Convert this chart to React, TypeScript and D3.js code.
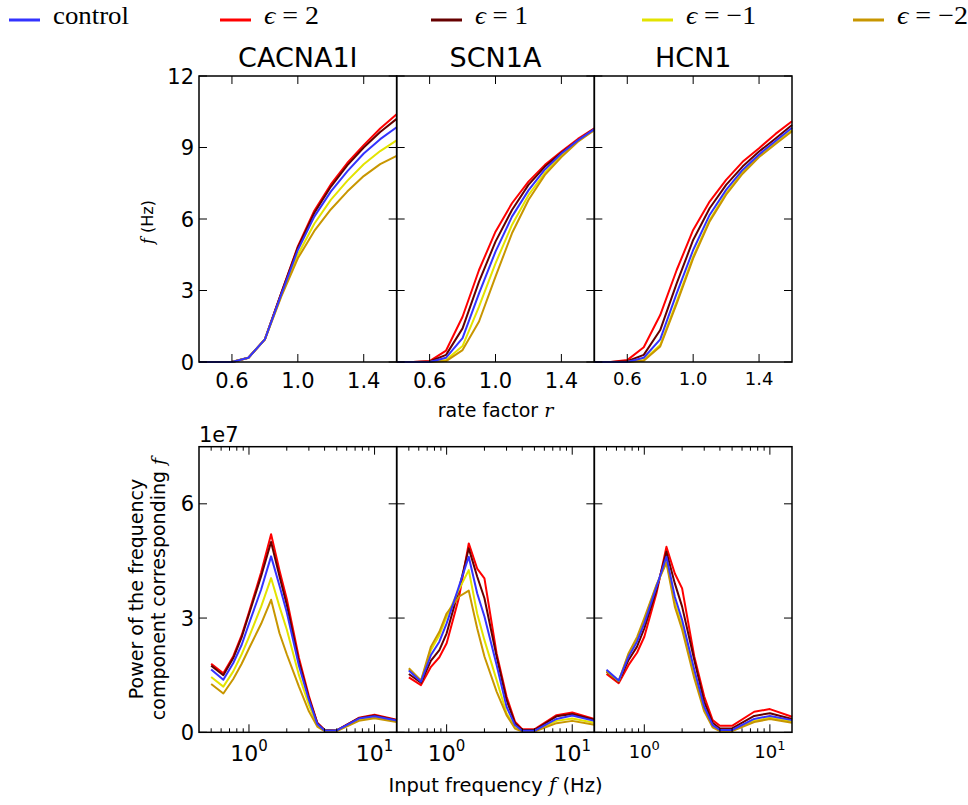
import { useEffect, useRef } from 'react';
import * as d3 from 'd3';

const genes = ['CACNA1I', 'SCN1A', 'HCN1'];
const seriesLabels = ['control', '2', '1', '\u22121', '\u22122'];
const seriesColors = ['#3333ff', '#ff0000', '#660000', '#e3e300', '#c89600'];
// control last so it sits on top
const drawOrder = [1, 2, 3, 4, 0];

// top row: output rate f (Hz) against rate factor r
const rateFactors = [0.4, 0.5, 0.6, 0.7, 0.8, 0.9, 1.0, 1.1, 1.2, 1.3, 1.4, 1.5, 1.6];
const rateTicks = [0.6, 1.0, 1.4];
const rateYTicks = [0, 3, 6, 9, 12];

const cacna1iRateControl = [0, 0, 0, 0.18, 0.95, 2.85, 4.7, 6.1, 7.15, 8.0, 8.75, 9.35, 9.85];
const cacna1iRateEps2 = [0, 0, 0, 0.18, 0.95, 2.9, 4.85, 6.35, 7.45, 8.35, 9.1, 9.8, 10.4];
const cacna1iRateEps1 = [0, 0, 0, 0.18, 0.95, 2.9, 4.8, 6.25, 7.35, 8.25, 9.0, 9.65, 10.2];
const cacna1iRateEpsM1 = [0, 0, 0, 0.18, 0.95, 2.8, 4.5, 5.8, 6.8, 7.6, 8.3, 8.85, 9.3];
const cacna1iRateEpsM2 = [0, 0, 0, 0.18, 0.95, 2.75, 4.35, 5.5, 6.4, 7.15, 7.8, 8.3, 8.65];

const scn1aRateControl = [0, 0, 0, 0.18, 1.0, 2.88, 4.63, 6.1, 7.2, 8.08, 8.75, 9.3, 9.77];
const scn1aRateEps2 = [0, 0, 0.04, 0.48, 1.9, 3.86, 5.47, 6.66, 7.57, 8.27, 8.83, 9.36, 9.8];
const scn1aRateEps1 = [0, 0, 0.02, 0.3, 1.41, 3.37, 5.05, 6.38, 7.43, 8.2, 8.78, 9.3, 9.78];
const scn1aRateEpsM1 = [0, 0, 0, 0.08, 0.67, 2.32, 4.14, 5.75, 7.0, 7.94, 8.68, 9.28, 9.75];
const scn1aRateEpsM2 = [0, 0, 0, 0.04, 0.5, 1.7, 3.58, 5.4, 6.8, 7.85, 8.6, 9.24, 9.73];

const hcn1RateControl = [0, 0, 0, 0.18, 0.95, 2.88, 4.7, 6.17, 7.22, 8.06, 8.71, 9.27, 9.83];
const hcn1RateEps2 = [0, 0, 0.08, 0.62, 1.97, 3.86, 5.54, 6.73, 7.64, 8.4, 8.97, 9.57, 10.1];
const hcn1RateEps1 = [0, 0, 0.03, 0.3, 1.34, 3.3, 5.12, 6.45, 7.43, 8.2, 8.83, 9.38, 9.94];
const hcn1RateEpsM1 = [0, 0, 0, 0.08, 0.71, 2.53, 4.42, 5.96, 7.08, 7.96, 8.64, 9.2, 9.73];
const hcn1RateEpsM2 = [0, 0, 0, 0.05, 0.65, 2.45, 4.35, 5.9, 7.02, 7.9, 8.6, 9.15, 9.68];

// bottom row: power (x 1e7) against input frequency f (Hz)
const inputFreqs = [0.5, 0.625, 0.75, 0.875, 1, 1.25, 1.5, 1.75, 2, 2.5, 3, 3.5, 4, 5, 7.5, 10, 15];
const powerYTicks = [0, 3, 6];

const cacna1iPowControl = [1.65, 1.38, 1.82, 2.3, 2.85, 3.75, 4.62, 3.85, 3.15, 1.75, 0.85, 0.22, 0.05, 0.05, 0.36, 0.42, 0.31];
const cacna1iPowEps2 = [1.8, 1.55, 2.0, 2.55, 3.15, 4.2, 5.2, 4.25, 3.5, 1.95, 0.95, 0.25, 0.06, 0.05, 0.38, 0.46, 0.33];
const cacna1iPowEps1 = [1.75, 1.5, 1.95, 2.5, 3.1, 4.1, 5.0, 4.1, 3.35, 1.85, 0.9, 0.24, 0.06, 0.05, 0.37, 0.44, 0.32];
const cacna1iPowEpsM1 = [1.45, 1.2, 1.6, 2.05, 2.5, 3.3, 4.05, 3.3, 2.7, 1.5, 0.72, 0.19, 0.04, 0.04, 0.33, 0.4, 0.29];
const cacna1iPowEpsM2 = [1.27, 1.02, 1.4, 1.8, 2.2, 2.85, 3.48, 2.6, 2.05, 1.2, 0.55, 0.15, 0.03, 0.03, 0.3, 0.37, 0.27];

const scn1aPowControl = [1.62, 1.33, 2.03, 2.38, 2.86, 3.82, 4.61, 3.65, 3.04, 1.77, 0.67, 0.19, 0.04, 0.04, 0.35, 0.44, 0.3];
const scn1aPowEps2 = [1.44, 1.24, 1.72, 1.97, 2.34, 3.52, 4.96, 4.3, 4.04, 2.07, 0.94, 0.28, 0.08, 0.08, 0.45, 0.52, 0.35];
const scn1aPowEps1 = [1.53, 1.3, 1.88, 2.16, 2.6, 3.74, 4.83, 4.09, 3.52, 1.99, 0.85, 0.24, 0.06, 0.06, 0.42, 0.48, 0.33];
const scn1aPowEpsM1 = [1.65, 1.35, 2.16, 2.55, 3.04, 3.74, 4.26, 3.12, 2.42, 1.37, 0.5, 0.13, 0.03, 0.03, 0.3, 0.36, 0.25];
const scn1aPowEpsM2 = [1.68, 1.36, 2.25, 2.64, 3.12, 3.56, 3.72, 2.73, 1.99, 1.07, 0.45, 0.1, 0.02, 0.02, 0.24, 0.3, 0.2];

const hcn1PowControl = [1.64, 1.36, 1.99, 2.38, 2.86, 3.82, 4.61, 3.56, 2.95, 1.64, 0.67, 0.19, 0.06, 0.06, 0.35, 0.43, 0.32];
const hcn1PowEps2 = [1.53, 1.29, 1.77, 2.09, 2.51, 3.65, 4.87, 4.17, 3.78, 1.99, 0.94, 0.32, 0.17, 0.17, 0.54, 0.61, 0.41];
const hcn1PowEps1 = [1.59, 1.33, 1.9, 2.25, 2.73, 3.74, 4.74, 3.91, 3.3, 1.9, 0.8, 0.25, 0.1, 0.1, 0.43, 0.5, 0.35];
const hcn1PowEpsM1 = [1.62, 1.35, 2.05, 2.45, 2.95, 3.85, 4.5, 3.4, 2.8, 1.5, 0.6, 0.16, 0.04, 0.04, 0.3, 0.38, 0.28];
const hcn1PowEpsM2 = [1.6, 1.34, 2.08, 2.5, 3.0, 3.87, 4.45, 3.3, 2.7, 1.42, 0.55, 0.13, 0.03, 0.03, 0.27, 0.35, 0.25];

const rateData = [
  [cacna1iRateControl, cacna1iRateEps2, cacna1iRateEps1, cacna1iRateEpsM1, cacna1iRateEpsM2],
  [scn1aRateControl, scn1aRateEps2, scn1aRateEps1, scn1aRateEpsM1, scn1aRateEpsM2],
  [hcn1RateControl, hcn1RateEps2, hcn1RateEps1, hcn1RateEpsM1, hcn1RateEpsM2],
];
const powerData = [
  [cacna1iPowControl, cacna1iPowEps2, cacna1iPowEps1, cacna1iPowEpsM1, cacna1iPowEpsM2],
  [scn1aPowControl, scn1aPowEps2, scn1aPowEps1, scn1aPowEpsM1, scn1aPowEpsM2],
  [hcn1PowControl, hcn1PowEps2, hcn1PowEps1, hcn1PowEpsM1, hcn1PowEpsM2],
];

const W = 968;
const H = 805;
const SANS = 'DejaVu Sans';
const SERIF = 'Liberation Serif';

function App() {
  const svgRef = useRef<SVGSVGElement>(null);

  useEffect(() => {
    if (!svgRef.current) return;
    const svg = d3.select(svgRef.current);
    svg.selectAll('*').remove();

    const figLeft = 199;
    const figRight = 792;
    const panelW = (figRight - figLeft) / 3;
    const topRow = { y0: 76, y1: 362 };
    const botRow = { y0: 446.7, y1: 732.3 };

    // Legend, five columns across the figure width
    const legendW = [76, 55, 53, 70, 71];
    seriesLabels.forEach((lab, i) => {
      const lx = 9 + i * 211;
      svg.append('line')
        .attr('x1', lx).attr('x2', lx + 31)
        .attr('y1', 20).attr('y2', 20)
        .attr('stroke', seriesColors[i])
        .attr('stroke-width', 3);
      const t = svg.append('text')
        .attr('x', lx + (i === 0 ? 44 : 44))
        .attr('y', 24)
        .attr('font-family', SERIF)
        .attr('font-size', 26)
        .attr('textLength', legendW[i])
        .attr('lengthAdjust', 'spacingAndGlyphs');
      if (i === 0) {
        t.text(lab);
      } else {
        t.append('tspan').attr('font-style', 'italic').text('\u03f5');
        t.append('tspan').text(' = ' + lab);
      }
    });

    const tickLen = 8;
    const minorLen = 4;

    const drawFrame = (g, x0, x1, y0, y1) => {
      g.append('rect')
        .attr('x', x0).attr('y', y0)
        .attr('width', x1 - x0).attr('height', y1 - y0)
        .attr('fill', 'none')
        .attr('stroke', '#000')
        .attr('stroke-width', 1.5);
    };

    const drawXTicks = (g, xs, scale, y0, y1, len) => {
      xs.forEach(v => {
        const px = scale(v);
        g.append('line').attr('x1', px).attr('x2', px).attr('y1', y1).attr('y2', y1 - len)
          .attr('stroke', '#000').attr('stroke-width', 1);
        g.append('line').attr('x1', px).attr('x2', px).attr('y1', y0).attr('y2', y0 + len)
          .attr('stroke', '#000').attr('stroke-width', 1);
      });
    };

    const drawYTicks = (g, ys, scale, x0, x1) => {
      ys.forEach(v => {
        const py = scale(v);
        g.append('line').attr('x1', x0).attr('x2', x0 + tickLen).attr('y1', py).attr('y2', py)
          .attr('stroke', '#000').attr('stroke-width', 1);
        g.append('line').attr('x1', x1).attr('x2', x1 - tickLen).attr('y1', py).attr('y2', py)
          .attr('stroke', '#000').attr('stroke-width', 1);
      });
    };

    genes.forEach((gene, gi) => {
      const x0 = figLeft + gi * panelW;
      const x1 = x0 + panelW;
      const tickFont = gi === 2 ? 18 : 21;

      // ---------- top: rate ----------
      const xr = d3.scaleLinear().domain([0.4, 1.6]).range([x0, x1]);
      const yr = d3.scaleLinear().domain([0, 12]).range([topRow.y1, topRow.y0]);
      const gt = svg.append('g');

      const rateLine = d3.line<number>()
        .x((_, i) => xr(rateFactors[i]))
        .y(d => yr(d));

      drawOrder.forEach(si => {
        gt.append('path')
          .attr('d', rateLine(rateData[gi][si]))
          .attr('fill', 'none')
          .attr('stroke', seriesColors[si])
          .attr('stroke-width', 2)
          .attr('stroke-linejoin', 'round');
      });

      drawFrame(gt, x0, x1, topRow.y0, topRow.y1);
      drawXTicks(gt, rateTicks, xr, topRow.y0, topRow.y1, tickLen);
      drawYTicks(gt, rateYTicks, yr, x0, x1);

      rateTicks.forEach(v => {
        gt.append('text')
          .attr('x', xr(v))
          .attr('y', gi === 2 ? 385 : 388)
          .attr('text-anchor', 'middle')
          .attr('font-family', SANS)
          .attr('font-size', tickFont)
          .text(v.toFixed(1));
      });

      if (gi === 0) {
        rateYTicks.forEach(v => {
          gt.append('text')
            .attr('x', x0 - 5)
            .attr('y', yr(v))
            .attr('dy', '0.36em')
            .attr('text-anchor', 'end')
            .attr('font-family', SANS)
            .attr('font-size', 21)
            .text(v);
        });
      }

      gt.append('text')
        .attr('x', (x0 + x1) / 2)
        .attr('y', 66.7)
        .attr('text-anchor', 'middle')
        .attr('font-family', SANS)
        .attr('font-size', 27)
        .text(gene);

      // ---------- bottom: power ----------
      const xp = d3.scaleLog().domain([0.4, 15]).range([x0, x1]);
      const yp = d3.scaleLinear().domain([0, 7.5]).range([botRow.y1, botRow.y0]);
      const gb = svg.append('g');

      const powLine = d3.line<number>()
        .x((_, i) => xp(inputFreqs[i]))
        .y(d => yp(d));

      drawOrder.forEach(si => {
        gb.append('path')
          .attr('d', powLine(powerData[gi][si]))
          .attr('fill', 'none')
          .attr('stroke', seriesColors[si])
          .attr('stroke-width', 2)
          .attr('stroke-linejoin', 'round');
      });

      drawFrame(gb, x0, x1, botRow.y0, botRow.y1);
      const majors = [1, 10];
      const minors = xp.ticks().filter(v => !majors.includes(v) && v > 0.4 && v < 15);
      drawXTicks(gb, majors, xp, botRow.y0, botRow.y1, tickLen);
      drawXTicks(gb, minors, xp, botRow.y0, botRow.y1, minorLen);
      drawYTicks(gb, powerYTicks, yp, x0, x1);

      majors.forEach((v, k) => {
        const t = gb.append('text')
          .attr('x', xp(v))
          .attr('y', gi === 2 ? 758 : 761)
          .attr('text-anchor', 'middle')
          .attr('font-family', SANS)
          .attr('font-size', gi === 2 ? 18 : 22);
        t.append('tspan').text('10');
        t.append('tspan')
          .attr('dy', gi === 2 ? -8 : -10)
          .attr('font-size', gi === 2 ? 13 : 15)
          .text(String(k));
      });

      if (gi === 0) {
        powerYTicks.forEach(v => {
          gb.append('text')
            .attr('x', x0 - 5)
            .attr('y', yp(v))
            .attr('dy', '0.36em')
            .attr('text-anchor', 'end')
            .attr('font-family', SANS)
            .attr('font-size', 21)
            .text(v);
        });
        gb.append('text')
          .attr('x', x0)
          .attr('y', 442)
          .attr('font-family', SANS)
          .attr('font-size', 21)
          .text('1e7');
      }
    });

    // axis labels
    const midX = figLeft + (figRight - figLeft) / 2;
    const rl = svg.append('text')
      .attr('x', midX).attr('y', 417)
      .attr('text-anchor', 'middle')
      .attr('font-family', SANS)
      .attr('font-size', 19);
    rl.append('tspan').text('rate factor ');
    rl.append('tspan').attr('font-family', 'DejaVu Serif').attr('font-style', 'italic').text('r');

    const fl = svg.append('text')
      .attr('x', midX).attr('y', 792)
      .attr('text-anchor', 'middle')
      .attr('font-family', SANS)
      .attr('font-size', 19.5);
    fl.append('tspan').text('Input frequency ');
    fl.append('tspan').attr('font-family', 'DejaVu Serif').attr('font-style', 'italic').text('f');
    fl.append('tspan').text(' (Hz)');

    const yl = svg.append('text')
      .attr('transform', 'translate(153,222) rotate(-90)')
      .attr('text-anchor', 'middle')
      .attr('font-family', SANS)
      .attr('font-size', 16);
    yl.append('tspan').attr('font-family', 'DejaVu Serif').attr('font-style', 'italic').text('f');
    yl.append('tspan').text(' (Hz)');

    const pl = svg.append('text')
      .attr('transform', 'translate(0,589) rotate(-90)')
      .attr('text-anchor', 'middle')
      .attr('font-family', SANS)
      .attr('font-size', 19);
    pl.append('tspan').attr('x', 0).attr('y', 143).text('Power of the frequency');
    const l2 = pl.append('tspan').attr('x', 0).attr('y', 165);
    l2.text('component corresponding ');
    pl.append('tspan').attr('font-family', 'DejaVu Serif').attr('font-style', 'italic').text('f');
  }, []);

  return (
    <svg
      ref={svgRef}
      width={W}
      height={H}
      style={{ position: 'absolute', left: 0, top: 0, background: '#fff' }}
    />
  );
}

export default App;
